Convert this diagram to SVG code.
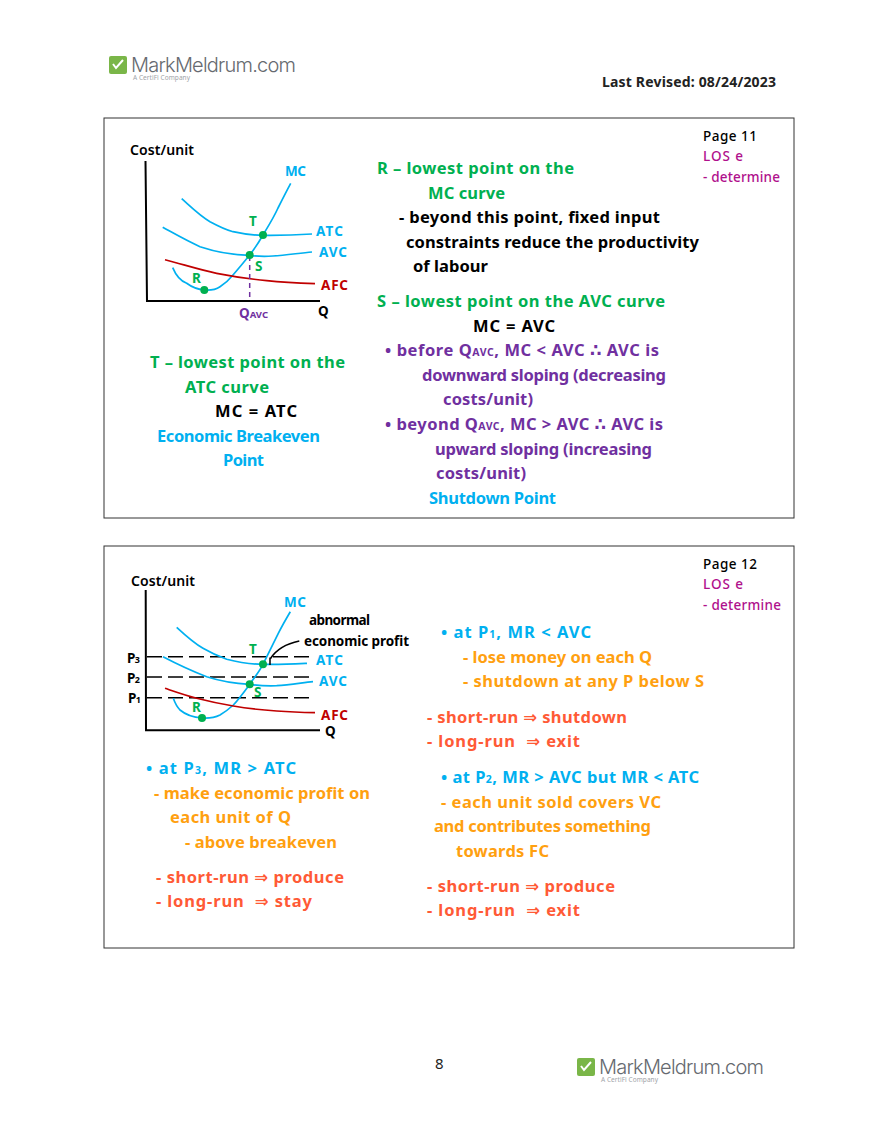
<svg xmlns="http://www.w3.org/2000/svg" width="880" height="1139" viewBox="0 0 880 1139">
<style>
text{font-family:"Noto Sans","DejaVu Sans",sans-serif;white-space:pre}
.t{font-size:16.5px;font-weight:700}
.s{font-size:14px;font-weight:600}
.n{font-size:13.5px;font-weight:500}
.l{font-size:13.5px;font-weight:700}
.g{fill:#00b050}.b{fill:#00b0f0}.p{fill:#7030a0}.o{fill:#ffa010}.r{fill:#ff5a36}.m{fill:#b0108c}.k{fill:#000}.d{fill:#c00000}
.c{fill:none;stroke-width:1.7}
.cb{stroke:#00b0f0}.cr{stroke:#c00000}
.ax{fill:none;stroke:#000;stroke-width:2}
.da{stroke:#000;stroke-width:1.5;stroke-dasharray:15 6;fill:none}
.dot{fill:#00b050}
.box{fill:#fff;stroke:#333;stroke-width:1}
</style>
<defs>
<g id="logo">
<rect x="109" y="56" width="18" height="18" rx="2" fill="#7ab648"/>
<path d="M113 64l3 4 7-8" fill="none" stroke="#fff" stroke-width="2"/>
<text x="131" y="72" font-size="20" fill="#666a70" textLength="165" style="font-family:Inter,sans-serif;font-weight:300">MarkMeldrum.com</text>
<text x="133" y="80" font-size="6.5" fill="#a0a4a8" textLength="57">A CertiFi Company</text>
</g>
</defs>
<rect width="880" height="1139" fill="#fff"/>
<g id="header-logo"><use href="#logo"/></g>
<text x="602" y="87" font-size="14" font-weight="700" fill="#222" textLength="174">Last Revised: 08/24/2023</text>

<g id="panel-1">
<rect class="box" x="104" y="118" width="690" height="400"/>
<text class="n k" x="703" y="141" textLength="54">Page 11</text>
<text class="n m" x="703" y="161" textLength="40">LOS e</text>
<text class="n m" x="703" y="182" textLength="77">- determine</text>
<text class="s k" x="130" y="155" textLength="64">Cost/unit</text>
</g>
<g id="connectors">
<path class="ax" d="M145.500 161L147 301H320"/>
<path class="c cb" d="M172.700 267.700C177 278 183 282 186.700 283.300C193 288 198 289.500 204.300 290C211 290.500 216 289.500 220 286.700C226 283 229 280 233 275C239 268 244 262 249.700 255C255 248 259 242 263 235C269 225 274 217 278 208C282 200 286 192 290.700 183.300"/>
<path class="c cb" d="M181.700 198.700C190 206 200 216 210 221.700C218 226 225 229.500 233 231.700C243 234 253 235.300 263 235.300C280 235.500 296 235 312 234"/>
<path class="c cb" d="M162.700 227.300C175 234 187 241 200 246.700C216 252 233 255 249.700 255.300C258 256.500 265 256.500 273 256C287 255 300 253 312 252"/>
<path class="c cr" d="M165 259.700C182 264 199 269.500 216.700 273.300C233 276.500 250 279 266.700 280.700C283 282.500 299 283.200 315 283.700"/>
<path d="M249.700 256V300" fill="none" stroke="#7030a0" stroke-width="1.500" stroke-dasharray="5 4"/>
<path class="ax" d="M145.700 590L146 730.300H320"/>
<path class="da" d="M147 656.700H310"/>
<path class="da" d="M147 677H312"/>
<path class="da" d="M147 697.700H311"/>
<path class="c cb" d="M173.300 698.300C175 703 177 707 180 710C186 715 194 717.500 202 718C209 718.500 215 717.500 220 715C225 712 229 709 233.300 705C239 699 244 692 249.700 684.300C254 678 259 672 263 664.300C268 654 273 644 278.300 633.300C282 626 286 619 290.300 611.700"/>
<path class="c cb" d="M176.700 627.300C185 635 194 643 203 648.300C211 653 219 656.500 226.700 659.300C239 662.500 251 664.300 263 664.300C278 664.800 293 664 307 663.300"/>
<path class="c cb" d="M163 656.700C177 664 192 671 206.700 676.700C220 681 235 683.500 249.700 684.300C259 685.700 268 686 276.700 685.700C289 685 301 683 313 681.700"/>
<path class="c cr" d="M165 688.300C176 692 186 695.500 196.700 698.300C209 701.500 221 704 233.300 706C247 708.500 262 710 276.700 711C289 712 302 712.500 315 712.700"/>
<path d="M299.300 641C285 644 276 650 270.500 658.500M270 657.500V665" fill="none" stroke="#000" stroke-width="1.500"/>
</g>
<g id="chart-1">
<circle class="dot" cx="204.300" cy="290" r="4"/>
<circle class="dot" cx="249.700" cy="255" r="4"/>
<circle class="dot" cx="263" cy="235" r="4"/>
<text class="l b" x="285" y="176" textLength="21">MC</text>
<text class="l g" x="249" y="226" textLength="9">T</text>
<text class="l b" x="316" y="236" textLength="27">ATC</text>
<text class="l b" x="319" y="257" textLength="28">AVC</text>
<text class="l g" x="255" y="271" textLength="7">S</text>
<text class="l g" x="192" y="283" textLength="9">R</text>
<text class="l d" x="321" y="290" textLength="27">AFC</text>
<text class="l p" x="239" y="318" textLength="29">Q<tspan font-size="9.500">AVC</tspan></text>
<text class="l k" x="318" y="316" textLength="11">Q</text>
</g>
<g id="text-1" transform="translate(0 0.600)">
<text class="t g" x="377" y="173" textLength="197">R – lowest point on the</text>
<text class="t g" x="428" y="198" textLength="77">MC curve</text>
<text class="t k" x="399" y="222" textLength="261">- beyond this point, fixed input</text>
<text class="t k" x="406" y="247" textLength="293">constraints reduce the productivity</text>
<text class="t k" x="413" y="271" textLength="75">of labour</text>
<text class="t g" x="377" y="306" textLength="288">S – lowest point on the AVC curve</text>
<text class="t k" x="473" y="331" textLength="82">MC = AVC</text>
<text class="t p" x="385" y="355" textLength="274">• before Q<tspan font-size="10.500">AVC</tspan>, MC &lt; AVC ∴ AVC is</text>
<text class="t p" x="422" y="380" textLength="244">downward sloping (decreasing</text>
<text class="t p" x="443" y="404" textLength="90">costs/unit)</text>
<text class="t p" x="385" y="429" textLength="278">• beyond Q<tspan font-size="10.500">AVC</tspan>, MC &gt; AVC ∴ AVC is</text>
<text class="t p" x="435" y="454" textLength="217">upward sloping (increasing</text>
<text class="t p" x="436" y="478" textLength="90">costs/unit)</text>
<text class="t b" x="429" y="503" textLength="127">Shutdown Point</text>
<text class="t g" x="150" y="367" textLength="195">T – lowest point on the</text>
<text class="t g" x="185" y="392" textLength="84">ATC curve</text>
<text class="t k" x="215" y="416" textLength="82">MC = ATC</text>
<text class="t b" x="157" y="441" textLength="163">Economic Breakeven</text>
<text class="t b" x="223" y="465" textLength="41">Point</text>
</g>

<g id="panel-2">
<rect class="box" x="104" y="546" width="690" height="402" style="fill:none"/>
<text class="n k" x="703" y="569" textLength="54">Page 12</text>
<text class="n m" x="703" y="589" textLength="40">LOS e</text>
<text class="n m" x="703" y="610" textLength="78">- determine</text>
<text class="s k" x="131" y="585.500" textLength="64">Cost/unit</text>
</g>
<g id="chart-2">
<circle class="dot" cx="202" cy="718" r="4"/>
<circle class="dot" cx="249.700" cy="684.300" r="4"/>
<circle class="dot" cx="263" cy="664.300" r="4"/>
<text class="l b" x="284" y="607" textLength="22">MC</text>
<text class="l k" x="309" y="625" textLength="61">abnormal</text>
<text class="l k" x="304" y="646" textLength="105">economic profit</text>
<text class="l g" x="249" y="654" textLength="9">T</text>
<text class="l b" x="316" y="665" textLength="27">ATC</text>
<text class="l b" x="319" y="686" textLength="28">AVC</text>
<text class="l g" x="254" y="697" textLength="8">S</text>
<text class="l g" x="192" y="712" textLength="8">R</text>
<text class="l d" x="321" y="720" textLength="27">AFC</text>
<text class="l k" x="325" y="736" textLength="11">Q</text>
<text class="l k" x="127" y="663" textLength="13">P<tspan font-size="9">3</tspan></text>
<text class="l k" x="127" y="683" textLength="13">P<tspan font-size="9">2</tspan></text>
<text class="l k" x="128" y="703" textLength="13">P<tspan font-size="9">1</tspan></text>
</g>
<g id="text-2" transform="translate(0 0.600)">
<text class="t b" x="441" y="637" textLength="150">• at P<tspan font-size="10.500">1</tspan>, MR &lt; AVC</text>
<text class="t o" x="463" y="662" textLength="189">- lose money on each Q</text>
<text class="t o" x="463" y="686" textLength="241">- shutdown at any P below S</text>
<text class="t r" x="427" y="722" textLength="200">- short-run ⇒ shutdown</text>
<text class="t r" x="427" y="746" textLength="153">- long-run  ⇒ exit</text>
<text class="t b" x="441" y="782" textLength="258">• at P<tspan font-size="10.500">2</tspan>, MR &gt; AVC but MR &lt; ATC</text>
<text class="t o" x="441" y="807" textLength="220">- each unit sold covers VC</text>
<text class="t o" x="434" y="831" textLength="217">and contributes something</text>
<text class="t o" x="456" y="856" textLength="93">towards FC</text>
<text class="t r" x="427" y="891" textLength="188">- short-run ⇒ produce</text>
<text class="t r" x="427" y="915" textLength="153">- long-run  ⇒ exit</text>
<text class="t b" x="146" y="773" textLength="150">• at P<tspan font-size="10.500">3</tspan>, MR &gt; ATC</text>
<text class="t o" x="154" y="798" textLength="216">- make economic profit on</text>
<text class="t o" x="170" y="822" textLength="121">each unit of Q</text>
<text class="t o" x="185" y="847" textLength="152">- above breakeven</text>
<text class="t r" x="156" y="882" textLength="188">- short-run ⇒ produce</text>
<text class="t r" x="156" y="906" textLength="156">- long-run  ⇒ stay</text>
</g>
<text x="435" y="1069" font-size="15" fill="#222">8</text>
<g id="footer-logo" transform="translate(468 1002)"><use href="#logo"/></g>
</svg>
